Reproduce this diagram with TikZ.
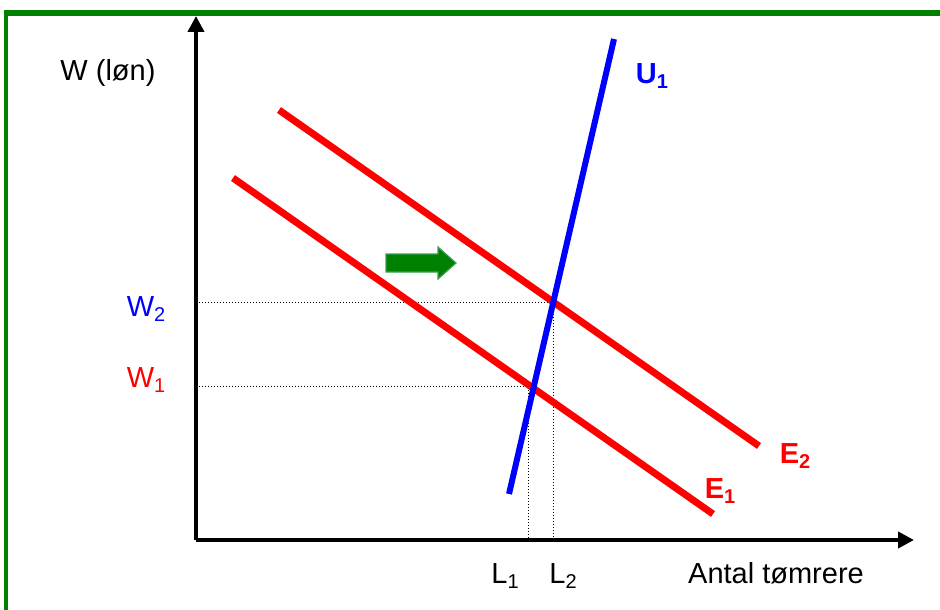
\documentclass[tikz,border=0pt]{standalone}
\usepackage{fontspec}
\setmainfont{Liberation Sans}
\usetikzlibrary{arrows.meta}
\definecolor{frameg}{RGB}{0,128,0}
\definecolor{arrowedge}{RGB}{60,160,80}
\definecolor{redc}{RGB}{255,0,0}
\definecolor{bluec}{RGB}{0,0,255}
\tikzset{
  lbl/.style={inner sep=0pt,font=\fontsize{29}{34}\selectfont},
  blbl/.style={inner sep=0pt,font=\fontsize{29}{34}\selectfont\bfseries},
  axis/.style={line width=4pt,-{Triangle[length=16pt,width=16pt]}},
  curveE/.style={line width=7pt,redc},
  curveU/.style={line width=6pt,bluec},
  guide/.style={line width=1pt,dotted}
}
\newcommand{\sbs}[1]{\raisebox{-0.3ex}{\fontsize{20}{20}\selectfont #1}}
\begin{document}
\begin{tikzpicture}[x=1pt,y=-1pt]
\useasboundingbox (0,0) rectangle (940,610);
% frame
\draw[frameg,line width=6pt] (6,13) -- (940,13);
\draw[frameg,line width=4pt] (6,10) -- (6,610);
% axes
\coordinate (O) at (196,540);
\coordinate (ytop) at (196,16);
\coordinate (xend) at (914,540);
\draw[axis] (O) -- (ytop);
\draw[axis] (O) -- (xend);
% guide lines
\coordinate (P1) at (528,386);
\coordinate (P2) at (553,302);
\coordinate (Y1) at (196,386);
\coordinate (Y2) at (196,302);
\coordinate (X1) at (528,540);
\coordinate (X2) at (553,540);
\draw[guide] (Y1) -- (P1) -- (X1);
\draw[guide] (Y2) -- (P2) -- (X2);
% curves
\coordinate (E1a) at (233,178);
\coordinate (E1b) at (713,514);
\coordinate (E2a) at (279,110);
\coordinate (E2b) at (759,446);
\coordinate (Ua) at (509,494);
\coordinate (Ub) at (614,39);
\draw[curveE] (E1a) -- (E1b);
\draw[curveE] (E2a) -- (E2b);
\draw[curveU] (Ua) -- (Ub);
% shift arrow
\draw[fill=frameg, draw=arrowedge, line width=1.2pt, line join=miter]
  (386,254) -- (438,254) -- (438,247) -- (456,263) -- (438,279) -- (438,272) -- (386,272) -- cycle;
% labels
\node[lbl] (wl) at (108,73) {W (løn)};
\node[blbl,bluec] (u1) at (652,76) {U\sbs{1}};
\node[blbl,redc] (e2) at (795,456) {E\sbs{2}};
\node[blbl,redc] (e1) at (720,491) {E\sbs{1}};
\node[lbl,bluec] (w2) at (146,309) {W\sbs{2}};
\node[lbl,redc] (w1) at (146,380) {W\sbs{1}};
\node[lbl] (l1) at (505,576) {L\sbs{1}};
\node[lbl] (l2) at (563,576) {L\sbs{2}};
\node[lbl] (xl) at (776,573) {Antal tømrere};
\end{tikzpicture}
\end{document}
